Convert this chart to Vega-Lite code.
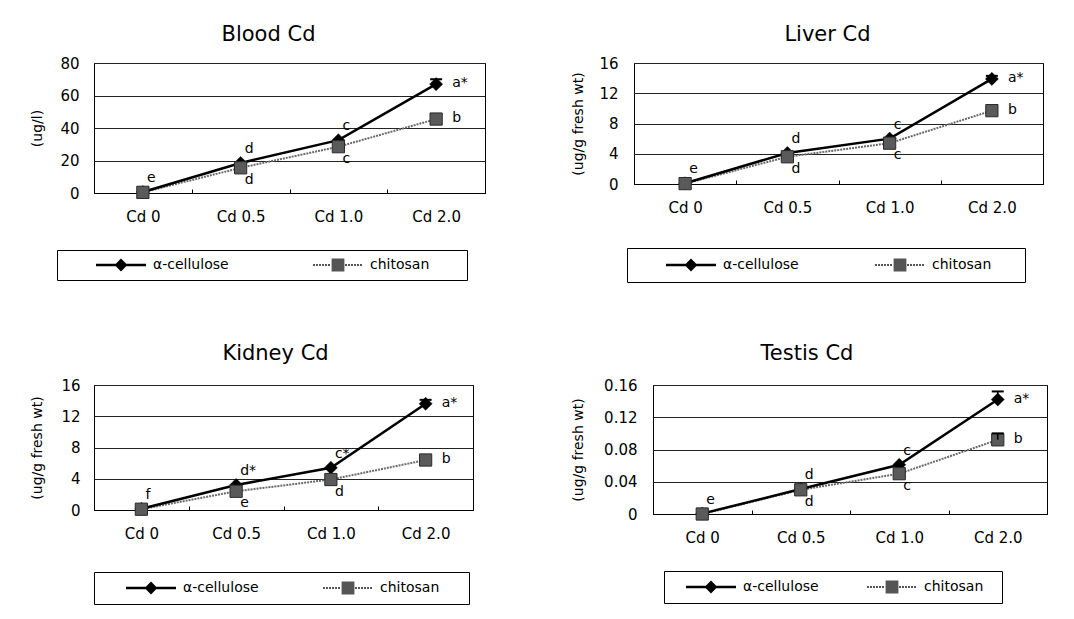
{
  "$schema": "https://vega.github.io/schema/vega-lite/v6.json",
  "padding": {"left": 30, "top": 23, "right": 5, "bottom": 5},
  "background": "white",
  "columns": 2,
  "align": "none",
  "spacing": {"row": 59, "column": 85},
  "resolve": {"scale": {"shape": "independent", "color": "independent", "x": "independent", "y": "independent"}, "legend": {"shape": "independent", "color": "independent"}},
  "config": {
    "view": {"stroke": "black", "strokeWidth": 1},
    "font": "DejaVu Sans",
    "title": {"font": "DejaVu Sans", "fontSize": 21, "fontWeight": "normal", "color": "black", "anchor": "middle"},
    "axis": {"labelFont": "DejaVu Sans", "labelFontSize": 15, "labelColor": "black", "titleFont": "DejaVu Sans", "titleFontSize": 14, "titleFontWeight": "normal", "titleColor": "black", "domainColor": "black", "tickColor": "black", "gridColor": "#222222", "gridOpacity": 1},
    "axisY": {"ticks": false, "domain": false, "grid": true},
    "axisX": {"grid": false, "labelAngle": 0, "tickBand": "extent", "tickSize": -4, "labelPadding": 20},
    "legend": {"labelFont": "DejaVu Sans", "labelFontSize": 14, "labelColor": "black", "strokeColor": "black", "padding": 8, "symbolSize": 64, "symbolStrokeWidth": 0, "labelOffset": 46, "direction": "horizontal", "orient": "none"}
  },
  "datasets": {
    "cd": [
      {"organ": "Blood", "dose": "Cd 0", "series": "α-cellulose", "value": 0.6, "hi": null, "letter": "e", "pos": "above"},
      {"organ": "Blood", "dose": "Cd 0", "series": "chitosan", "value": 0.4, "hi": null, "letter": null, "pos": null},
      {"organ": "Blood", "dose": "Cd 0.5", "series": "α-cellulose", "value": 18.5, "hi": null, "letter": "d", "pos": "above"},
      {"organ": "Blood", "dose": "Cd 0.5", "series": "chitosan", "value": 15.5, "hi": null, "letter": "d", "pos": "below"},
      {"organ": "Blood", "dose": "Cd 1.0", "series": "α-cellulose", "value": 32.5, "hi": null, "letter": "c", "pos": "above"},
      {"organ": "Blood", "dose": "Cd 1.0", "series": "chitosan", "value": 28.5, "hi": null, "letter": "c", "pos": "below"},
      {"organ": "Blood", "dose": "Cd 2.0", "series": "α-cellulose", "value": 67, "hi": 70, "letter": "a*", "pos": "right"},
      {"organ": "Blood", "dose": "Cd 2.0", "series": "chitosan", "value": 45.5, "hi": null, "letter": "b", "pos": "right"},
      {"organ": "Liver", "dose": "Cd 0", "series": "α-cellulose", "value": 0.1, "hi": null, "letter": "e", "pos": "above"},
      {"organ": "Liver", "dose": "Cd 0", "series": "chitosan", "value": 0.05, "hi": null, "letter": null, "pos": null},
      {"organ": "Liver", "dose": "Cd 0.5", "series": "α-cellulose", "value": 4.1, "hi": null, "letter": "d", "pos": "above"},
      {"organ": "Liver", "dose": "Cd 0.5", "series": "chitosan", "value": 3.6, "hi": null, "letter": "d", "pos": "below"},
      {"organ": "Liver", "dose": "Cd 1.0", "series": "α-cellulose", "value": 6.0, "hi": null, "letter": "c", "pos": "above"},
      {"organ": "Liver", "dose": "Cd 1.0", "series": "chitosan", "value": 5.4, "hi": null, "letter": "c", "pos": "below"},
      {"organ": "Liver", "dose": "Cd 2.0", "series": "α-cellulose", "value": 13.9, "hi": 14.3, "letter": "a*", "pos": "right"},
      {"organ": "Liver", "dose": "Cd 2.0", "series": "chitosan", "value": 9.7, "hi": null, "letter": "b", "pos": "right"},
      {"organ": "Kidney", "dose": "Cd 0", "series": "α-cellulose", "value": 0.15, "hi": null, "letter": "f", "pos": "above"},
      {"organ": "Kidney", "dose": "Cd 0", "series": "chitosan", "value": 0.1, "hi": null, "letter": null, "pos": null},
      {"organ": "Kidney", "dose": "Cd 0.5", "series": "α-cellulose", "value": 3.2, "hi": null, "letter": "d*", "pos": "above"},
      {"organ": "Kidney", "dose": "Cd 0.5", "series": "chitosan", "value": 2.4, "hi": null, "letter": "e", "pos": "below"},
      {"organ": "Kidney", "dose": "Cd 1.0", "series": "α-cellulose", "value": 5.4, "hi": null, "letter": "c*", "pos": "above"},
      {"organ": "Kidney", "dose": "Cd 1.0", "series": "chitosan", "value": 3.9, "hi": null, "letter": "d", "pos": "below"},
      {"organ": "Kidney", "dose": "Cd 2.0", "series": "α-cellulose", "value": 13.6, "hi": 14.1, "letter": "a*", "pos": "right"},
      {"organ": "Kidney", "dose": "Cd 2.0", "series": "chitosan", "value": 6.4, "hi": null, "letter": "b", "pos": "right"},
      {"organ": "Testis", "dose": "Cd 0", "series": "α-cellulose", "value": 0.0005, "hi": null, "letter": "e", "pos": "above"},
      {"organ": "Testis", "dose": "Cd 0", "series": "chitosan", "value": 0.0, "hi": null, "letter": null, "pos": null},
      {"organ": "Testis", "dose": "Cd 0.5", "series": "α-cellulose", "value": 0.031, "hi": null, "letter": "d", "pos": "above"},
      {"organ": "Testis", "dose": "Cd 0.5", "series": "chitosan", "value": 0.030, "hi": null, "letter": "d", "pos": "below"},
      {"organ": "Testis", "dose": "Cd 1.0", "series": "α-cellulose", "value": 0.061, "hi": null, "letter": "c", "pos": "above"},
      {"organ": "Testis", "dose": "Cd 1.0", "series": "chitosan", "value": 0.050, "hi": null, "letter": "c", "pos": "below"},
      {"organ": "Testis", "dose": "Cd 2.0", "series": "α-cellulose", "value": 0.142, "hi": 0.152, "letter": "a*", "pos": "right"},
      {"organ": "Testis", "dose": "Cd 2.0", "series": "chitosan", "value": 0.092, "hi": 0.100, "letter": "b", "pos": "right"}
    ]
  },
  "concat": [
    {
      "width": 391, "height": 130,
      "title": {"text": "Blood Cd", "dx": -21, "offset": 11},
      "data": {"name": "cd"},
      "transform": [{"filter": "datum.organ === 'Blood'"}],
      "encoding": {
        "x": {"field": "dose", "type": "ordinal", "sort": ["Cd 0", "Cd 0.5", "Cd 1.0", "Cd 2.0"], "bandPosition": 0.5, "scale": {"type": "band", "paddingInner": 0, "paddingOuter": 0}, "axis": {"title": null}},
        "y": {"field": "value", "type": "quantitative", "scale": {"domain": [0, 80], "nice": false}, "axis": {"values": [0, 20, 40, 60, 80], "title": "(ug/l)", "titlePadding": 15, "labelPadding": 15}}
      },
      "layer": [
        {"mark": {"type": "line", "color": "#6a6a6a", "strokeWidth": 2, "strokeDash": [2, 1]}, "transform": [{"filter": "datum.series === 'chitosan'"}]},
        {"mark": {"type": "line", "color": "black", "strokeWidth": 2.5}, "transform": [{"filter": "datum.series === 'α-cellulose'"}]},
        {"mark": {"type": "point", "shape": "diamond", "filled": true, "fill": "black", "stroke": "black", "strokeWidth": 0.5, "size": 170, "opacity": 1}, "transform": [{"filter": "datum.series === 'α-cellulose'"}]},
        {"mark": {"type": "point", "shape": "square", "filled": true, "fill": "#5a5a5a", "stroke": "#2a2a2a", "strokeWidth": 1, "size": 150, "opacity": 1}, "transform": [{"filter": "datum.series === 'chitosan'"}]},
        {"mark": {"type": "rule", "color": "black", "strokeWidth": 1.5}, "transform": [{"filter": "datum.hi != null"}], "encoding": {"y2": {"field": "hi"}}},
        {"mark": {"type": "tick", "color": "black", "thickness": 2, "size": 12, "opacity": 1}, "transform": [{"filter": "datum.hi != null"}], "encoding": {"y": {"field": "hi", "type": "quantitative", "scale": {"domain": [0, 80], "nice": false}, "axis": {"values": [0, 20, 40, 60, 80], "title": "(ug/l)", "titlePadding": 15, "labelPadding": 15}}}},
        {"mark": {"type": "text", "align": "left", "baseline": "middle", "dx": 4, "dy": -14, "fontSize": 14, "color": "black"}, "transform": [{"filter": "datum.pos === 'above'"}], "encoding": {"text": {"field": "letter"}}},
        {"mark": {"type": "text", "align": "left", "baseline": "middle", "dx": 4, "dy": 12, "fontSize": 14, "color": "black"}, "transform": [{"filter": "datum.pos === 'below'"}], "encoding": {"text": {"field": "letter"}}},
        {"mark": {"type": "text", "align": "left", "baseline": "middle", "dx": 16, "dy": -1, "fontSize": 14, "color": "black"}, "transform": [{"filter": "datum.pos === 'right'"}], "encoding": {"text": {"field": "letter"}}},
        {"mark": {"type": "point", "filled": true, "opacity": 1}, "transform": [{"filter": "datum.value < 0"}],
         "encoding": {
           "shape": {"field": "series", "type": "nominal", "scale": {"domain": ["α-cellulose", "chitosan"], "range": ["M-1,-0.3H11.5V0.3H-1ZM5.25,-1.6L6.85,0L5.25,1.6L3.65,0Z", "M35.4,0M-1,-0.25H-0.5V0.25H-1ZM-0.25,-0.25H0.25V0.25H-0.25ZM0.5,-0.25H1V0.25H0.5ZM1.25,-0.25H1.75V0.25H1.25ZM2,-0.25H2.5V0.25H2ZM2.75,-0.25H3.25V0.25H2.75ZM7,-0.25H7.5V0.25H7ZM7.75,-0.25H8.25V0.25H7.75ZM8.5,-0.25H9V0.25H8.5ZM9.25,-0.25H9.75V0.25H9.25ZM10,-0.25H10.5V0.25H10ZM10.75,-0.25H11.25V0.25H10.75ZM3.65,-1.6H6.85V1.6H3.65Z"]}, "legend": {"title": null, "orient": "none", "legendX": -37, "legendY": 187, "columnPadding": 53, "symbolOffset": 28, "padding": 8}},
           "color": {"field": "series", "type": "nominal", "scale": {"domain": ["α-cellulose", "chitosan"], "range": ["black", "#555555"]}, "legend": {"title": null, "orient": "none", "legendX": -37, "legendY": 187, "columnPadding": 53, "symbolOffset": 28, "padding": 8}}
         }}
      ]
    },
    {
      "width": 409, "height": 121,
      "title": {"text": "Liver Cd", "dx": -11, "offset": 11},
      "data": {"name": "cd"},
      "transform": [{"filter": "datum.organ === 'Liver'"}],
      "encoding": {
        "x": {"field": "dose", "type": "ordinal", "sort": ["Cd 0", "Cd 0.5", "Cd 1.0", "Cd 2.0"], "bandPosition": 0.5, "scale": {"type": "band", "paddingInner": 0, "paddingOuter": 0}, "axis": {"title": null}},
        "y": {"field": "value", "type": "quantitative", "scale": {"domain": [0, 16], "nice": false}, "axis": {"values": [0, 4, 8, 12, 16], "title": "(ug/g fresh wt)", "titlePadding": 13, "labelPadding": 16}}
      },
      "layer": [
        {"mark": {"type": "line", "color": "#6a6a6a", "strokeWidth": 2, "strokeDash": [2, 1]}, "transform": [{"filter": "datum.series === 'chitosan'"}]},
        {"mark": {"type": "line", "color": "black", "strokeWidth": 2.5}, "transform": [{"filter": "datum.series === 'α-cellulose'"}]},
        {"mark": {"type": "point", "shape": "diamond", "filled": true, "fill": "black", "stroke": "black", "strokeWidth": 0.5, "size": 170, "opacity": 1}, "transform": [{"filter": "datum.series === 'α-cellulose'"}]},
        {"mark": {"type": "point", "shape": "square", "filled": true, "fill": "#5a5a5a", "stroke": "#2a2a2a", "strokeWidth": 1, "size": 150, "opacity": 1}, "transform": [{"filter": "datum.series === 'chitosan'"}]},
        {"mark": {"type": "rule", "color": "black", "strokeWidth": 1.5}, "transform": [{"filter": "datum.hi != null"}], "encoding": {"y2": {"field": "hi"}}},
        {"mark": {"type": "tick", "color": "black", "thickness": 2, "size": 12, "opacity": 1}, "transform": [{"filter": "datum.hi != null"}], "encoding": {"y": {"field": "hi", "type": "quantitative", "scale": {"domain": [0, 16], "nice": false}, "axis": {"values": [0, 4, 8, 12, 16], "title": "(ug/g fresh wt)", "titlePadding": 13, "labelPadding": 16}}}},
        {"mark": {"type": "text", "align": "left", "baseline": "middle", "dx": 4, "dy": -14, "fontSize": 14, "color": "black"}, "transform": [{"filter": "datum.pos === 'above'"}], "encoding": {"text": {"field": "letter"}}},
        {"mark": {"type": "text", "align": "left", "baseline": "middle", "dx": 4, "dy": 12, "fontSize": 14, "color": "black"}, "transform": [{"filter": "datum.pos === 'below'"}], "encoding": {"text": {"field": "letter"}}},
        {"mark": {"type": "text", "align": "left", "baseline": "middle", "dx": 16, "dy": -1, "fontSize": 14, "color": "black"}, "transform": [{"filter": "datum.pos === 'right'"}], "encoding": {"text": {"field": "letter"}}},
        {"mark": {"type": "point", "filled": true, "opacity": 1}, "transform": [{"filter": "datum.value < 0"}],
         "encoding": {
           "shape": {"field": "series", "type": "nominal", "scale": {"domain": ["α-cellulose", "chitosan"], "range": ["M-1,-0.3H11.5V0.3H-1ZM5.25,-1.6L6.85,0L5.25,1.6L3.65,0Z", "M33.85,0M-1,-0.25H-0.5V0.25H-1ZM-0.25,-0.25H0.25V0.25H-0.25ZM0.5,-0.25H1V0.25H0.5ZM1.25,-0.25H1.75V0.25H1.25ZM2,-0.25H2.5V0.25H2ZM2.75,-0.25H3.25V0.25H2.75ZM7,-0.25H7.5V0.25H7ZM7.75,-0.25H8.25V0.25H7.75ZM8.5,-0.25H9V0.25H8.5ZM9.25,-0.25H9.75V0.25H9.25ZM10,-0.25H10.5V0.25H10ZM10.75,-0.25H11.25V0.25H10.75ZM3.65,-1.6H6.85V1.6H3.65Z"]}, "legend": {"title": null, "orient": "none", "legendX": -7, "legendY": 185, "columnPadding": 47, "symbolOffset": 26, "padding": 10}},
           "color": {"field": "series", "type": "nominal", "scale": {"domain": ["α-cellulose", "chitosan"], "range": ["black", "#555555"]}, "legend": {"title": null, "orient": "none", "legendX": -7, "legendY": 185, "columnPadding": 47, "symbolOffset": 26, "padding": 10}}
         }}
      ]
    },
    {
      "width": 379, "height": 125,
      "title": {"text": "Kidney Cd", "dx": -8, "offset": 14},
      "data": {"name": "cd"},
      "transform": [{"filter": "datum.organ === 'Kidney'"}],
      "encoding": {
        "x": {"field": "dose", "type": "ordinal", "sort": ["Cd 0", "Cd 0.5", "Cd 1.0", "Cd 2.0"], "bandPosition": 0.5, "scale": {"type": "band", "paddingInner": 0, "paddingOuter": 0}, "axis": {"title": null}},
        "y": {"field": "value", "type": "quantitative", "scale": {"domain": [0, 16], "nice": false}, "axis": {"values": [0, 4, 8, 12, 16], "title": "(ug/g fresh wt)", "titlePadding": 16, "labelPadding": 14}}
      },
      "layer": [
        {"mark": {"type": "line", "color": "#6a6a6a", "strokeWidth": 2, "strokeDash": [2, 1]}, "transform": [{"filter": "datum.series === 'chitosan'"}]},
        {"mark": {"type": "line", "color": "black", "strokeWidth": 2.5}, "transform": [{"filter": "datum.series === 'α-cellulose'"}]},
        {"mark": {"type": "point", "shape": "diamond", "filled": true, "fill": "black", "stroke": "black", "strokeWidth": 0.5, "size": 170, "opacity": 1}, "transform": [{"filter": "datum.series === 'α-cellulose'"}]},
        {"mark": {"type": "point", "shape": "square", "filled": true, "fill": "#5a5a5a", "stroke": "#2a2a2a", "strokeWidth": 1, "size": 150, "opacity": 1}, "transform": [{"filter": "datum.series === 'chitosan'"}]},
        {"mark": {"type": "rule", "color": "black", "strokeWidth": 1.5}, "transform": [{"filter": "datum.hi != null"}], "encoding": {"y2": {"field": "hi"}}},
        {"mark": {"type": "tick", "color": "black", "thickness": 2, "size": 12, "opacity": 1}, "transform": [{"filter": "datum.hi != null"}], "encoding": {"y": {"field": "hi", "type": "quantitative", "scale": {"domain": [0, 16], "nice": false}, "axis": {"values": [0, 4, 8, 12, 16], "title": "(ug/g fresh wt)", "titlePadding": 16, "labelPadding": 14}}}},
        {"mark": {"type": "text", "align": "left", "baseline": "middle", "dx": 4, "dy": -14, "fontSize": 14, "color": "black"}, "transform": [{"filter": "datum.pos === 'above'"}], "encoding": {"text": {"field": "letter"}}},
        {"mark": {"type": "text", "align": "left", "baseline": "middle", "dx": 4, "dy": 12, "fontSize": 14, "color": "black"}, "transform": [{"filter": "datum.pos === 'below'"}], "encoding": {"text": {"field": "letter"}}},
        {"mark": {"type": "text", "align": "left", "baseline": "middle", "dx": 16, "dy": -1, "fontSize": 14, "color": "black"}, "transform": [{"filter": "datum.pos === 'right'"}], "encoding": {"text": {"field": "letter"}}},
        {"mark": {"type": "point", "filled": true, "opacity": 1}, "transform": [{"filter": "datum.value < 0"}],
         "encoding": {
           "shape": {"field": "series", "type": "nominal", "scale": {"domain": ["α-cellulose", "chitosan"], "range": ["M-1,-0.3H11.5V0.3H-1ZM5.25,-1.6L6.85,0L5.25,1.6L3.65,0Z", "M33.1,0M-1,-0.25H-0.5V0.25H-1ZM-0.25,-0.25H0.25V0.25H-0.25ZM0.5,-0.25H1V0.25H0.5ZM1.25,-0.25H1.75V0.25H1.25ZM2,-0.25H2.5V0.25H2ZM2.75,-0.25H3.25V0.25H2.75ZM7,-0.25H7.5V0.25H7ZM7.75,-0.25H8.25V0.25H7.75ZM8.5,-0.25H9V0.25H8.5ZM9.25,-0.25H9.75V0.25H9.25ZM10,-0.25H10.5V0.25H10ZM10.75,-0.25H11.25V0.25H10.75ZM3.65,-1.6H6.85V1.6H3.65Z"]}, "legend": {"title": null, "orient": "none", "legendX": 0, "legendY": 187, "columnPadding": 41, "symbolOffset": 20, "padding": 9}},
           "color": {"field": "series", "type": "nominal", "scale": {"domain": ["α-cellulose", "chitosan"], "range": ["black", "#555555"]}, "legend": {"title": null, "orient": "none", "legendX": 0, "legendY": 187, "columnPadding": 41, "symbolOffset": 20, "padding": 9}}
         }}
      ]
    },
    {
      "width": 394, "height": 129,
      "title": {"text": "Testis Cd", "dx": -43, "offset": 14},
      "data": {"name": "cd"},
      "transform": [{"filter": "datum.organ === 'Testis'"}],
      "encoding": {
        "x": {"field": "dose", "type": "ordinal", "sort": ["Cd 0", "Cd 0.5", "Cd 1.0", "Cd 2.0"], "bandPosition": 0.5, "scale": {"type": "band", "paddingInner": 0, "paddingOuter": 0}, "axis": {"title": null}},
        "y": {"field": "value", "type": "quantitative", "scale": {"domain": [0, 0.16], "nice": false}, "axis": {"values": [0, 0.04, 0.08, 0.12, 0.16], "format": "~g", "title": "(ug/g fresh wt)", "titlePadding": 18, "labelPadding": 16}}
      },
      "layer": [
        {"mark": {"type": "line", "color": "#6a6a6a", "strokeWidth": 2, "strokeDash": [2, 1]}, "transform": [{"filter": "datum.series === 'chitosan'"}]},
        {"mark": {"type": "line", "color": "black", "strokeWidth": 2.5}, "transform": [{"filter": "datum.series === 'α-cellulose'"}]},
        {"mark": {"type": "point", "shape": "diamond", "filled": true, "fill": "black", "stroke": "black", "strokeWidth": 0.5, "size": 170, "opacity": 1}, "transform": [{"filter": "datum.series === 'α-cellulose'"}]},
        {"mark": {"type": "point", "shape": "square", "filled": true, "fill": "#5a5a5a", "stroke": "#2a2a2a", "strokeWidth": 1, "size": 150, "opacity": 1}, "transform": [{"filter": "datum.series === 'chitosan'"}]},
        {"mark": {"type": "rule", "color": "black", "strokeWidth": 1.5}, "transform": [{"filter": "datum.hi != null"}], "encoding": {"y2": {"field": "hi"}}},
        {"mark": {"type": "tick", "color": "black", "thickness": 2, "size": 12, "opacity": 1}, "transform": [{"filter": "datum.hi != null"}], "encoding": {"y": {"field": "hi", "type": "quantitative", "scale": {"domain": [0, 0.16], "nice": false}, "axis": {"values": [0, 0.04, 0.08, 0.12, 0.16], "format": "~g", "title": "(ug/g fresh wt)", "titlePadding": 18, "labelPadding": 16}}}},
        {"mark": {"type": "text", "align": "left", "baseline": "middle", "dx": 4, "dy": -14, "fontSize": 14, "color": "black"}, "transform": [{"filter": "datum.pos === 'above'"}], "encoding": {"text": {"field": "letter"}}},
        {"mark": {"type": "text", "align": "left", "baseline": "middle", "dx": 4, "dy": 12, "fontSize": 14, "color": "black"}, "transform": [{"filter": "datum.pos === 'below'"}], "encoding": {"text": {"field": "letter"}}},
        {"mark": {"type": "text", "align": "left", "baseline": "middle", "dx": 16, "dy": -1, "fontSize": 14, "color": "black"}, "transform": [{"filter": "datum.pos === 'right'"}], "encoding": {"text": {"field": "letter"}}},
        {"mark": {"type": "point", "filled": true, "opacity": 1}, "transform": [{"filter": "datum.value < 0"}],
         "encoding": {
           "shape": {"field": "series", "type": "nominal", "scale": {"domain": ["α-cellulose", "chitosan"], "range": ["M-1,-0.3H11.5V0.3H-1ZM5.25,-1.6L6.85,0L5.25,1.6L3.65,0Z", "M30.35,0M-1,-0.25H-0.5V0.25H-1ZM-0.25,-0.25H0.25V0.25H-0.25ZM0.5,-0.25H1V0.25H0.5ZM1.25,-0.25H1.75V0.25H1.25ZM2,-0.25H2.5V0.25H2ZM2.75,-0.25H3.25V0.25H2.75ZM7,-0.25H7.5V0.25H7ZM7.75,-0.25H8.25V0.25H7.75ZM8.5,-0.25H9V0.25H8.5ZM9.25,-0.25H9.75V0.25H9.25ZM10,-0.25H10.5V0.25H10ZM10.75,-0.25H11.25V0.25H10.75ZM3.65,-1.6H6.85V1.6H3.65Z"]}, "legend": {"title": null, "orient": "none", "legendX": 11, "legendY": 186, "columnPadding": 35, "symbolOffset": 10, "padding": 9}},
           "color": {"field": "series", "type": "nominal", "scale": {"domain": ["α-cellulose", "chitosan"], "range": ["black", "#555555"]}, "legend": {"title": null, "orient": "none", "legendX": 11, "legendY": 186, "columnPadding": 35, "symbolOffset": 10, "padding": 9}}
         }}
      ]
    }
  ]
}
